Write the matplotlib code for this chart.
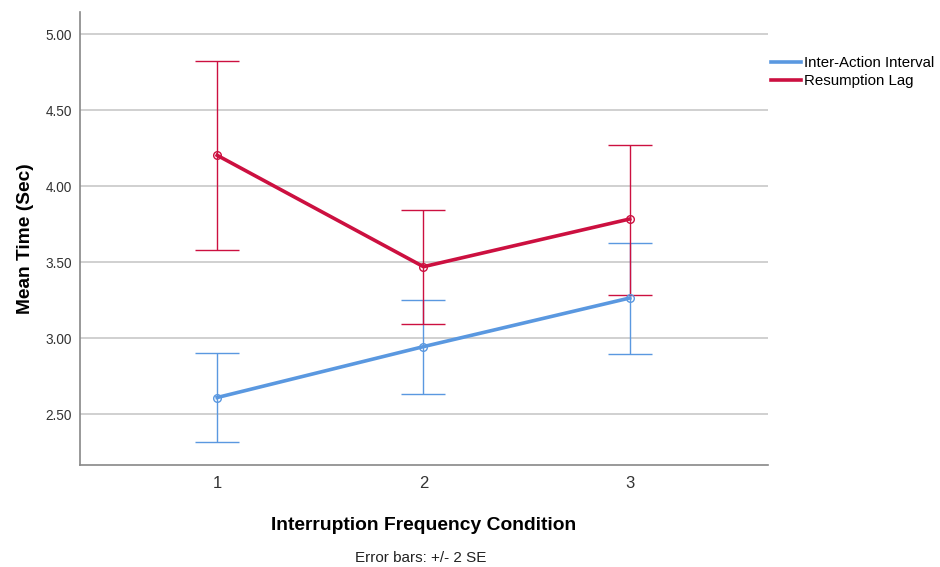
import numpy as np
import matplotlib
matplotlib.use("Agg")
import matplotlib.pyplot as plt

plt.rcParams['font.family'] = ['Liberation Sans', 'DejaVu Sans']

# condition means and +/- 2 SE limits
conditions = [1, 2, 3]
iai_mean = [2.61, 2.945, 3.265]
iai_low = [2.316, 2.636, 2.899]
iai_high = [2.903, 3.252, 3.629]
rl_mean = [4.204, 3.471, 3.785]
rl_low = [3.581, 3.092, 3.285]
rl_high = [4.822, 3.844, 4.272]
yticks = [2.50, 3.00, 3.50, 4.00, 4.50, 5.00]

blue = '#5a98e0'
red = '#cc1040'

fig = plt.figure(figsize=(9.4, 5.67), dpi=100)
ax = fig.add_axes([0.0851, 0.1799, 0.7319, 0.7989])

def draw(mean, low, high, color, label):
    mean = np.array(mean)
    err = [mean - np.array(low), np.array(high) - mean]
    ax.errorbar(conditions, mean, yerr=err, fmt='none', ecolor=color,
                elinewidth=1.0, capsize=16, capthick=1.0, zorder=3)
    ax.plot(conditions, mean, color=color, lw=2.6, label=label, zorder=4)
    ax.plot(conditions, mean, 'o', ms=5.5, mfc='none', mec=color, mew=1.0, zorder=5)

draw(iai_mean, iai_low, iai_high, blue, 'Inter-Action Interval')
draw(rl_mean, rl_low, rl_high, red, 'Resumption Lag')

ax.set_xlim(0.335, 3.67)
ax.set_ylim(2.166, 5.147)
ax.set_xticks(conditions)
ax.set_xticklabels([str(c) for c in conditions], fontsize=12, color='#333333')
ax.set_yticks(yticks)
ax.set_yticklabels(['%.2f' % v for v in yticks], fontsize=9.8, color='#333333')
ax.tick_params(length=0, pad=8)
ax.tick_params(axis='y', pad=6)
ax.grid(axis='y', color='#c8c8c8', lw=1.2)
ax.set_axisbelow(True)
for s in ['top', 'right']:
    ax.spines[s].set_visible(False)
for s in ['left', 'bottom']:
    ax.spines[s].set_color('#888888')
    ax.spines[s].set_linewidth(1.2)

ax.set_ylabel('Mean Time (Sec)', fontsize=13.8, fontweight='bold', labelpad=8)
ax.set_xlabel('Interruption Frequency Condition', fontsize=13.9,
              fontweight='bold', labelpad=19)
fig.text(0.448, 0.016, 'Error bars: +/- 2 SE', fontsize=11, ha='center',
         va='center', color='#222222')

fig.legend(loc='upper left', bbox_to_anchor=(0.814, 0.912), frameon=False,
           fontsize=10.8, handlelength=2.0, handletextpad=0.2,
           labelspacing=0.3, borderaxespad=0.0)

fig.savefig('out.png', dpi=100)
